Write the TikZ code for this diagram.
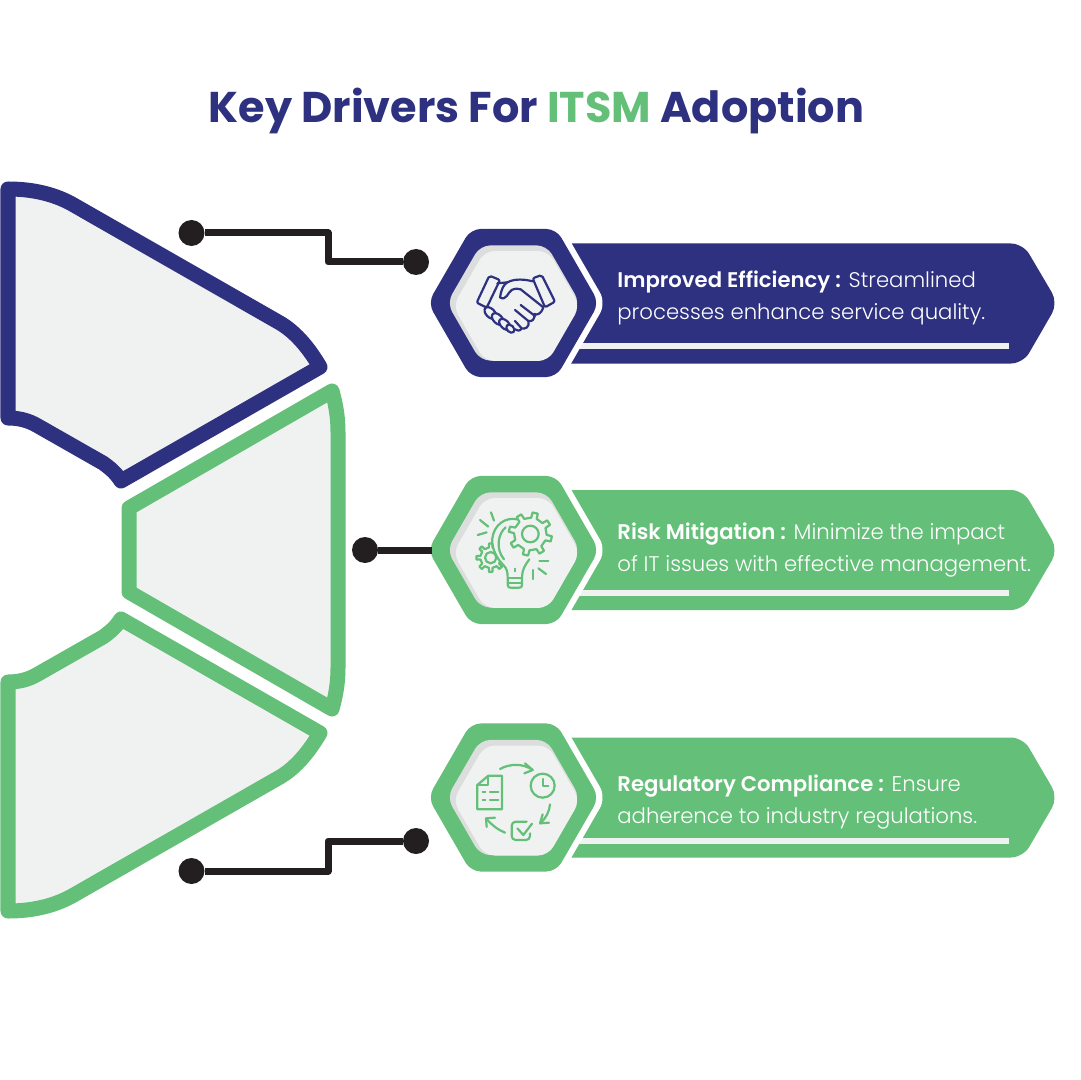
\documentclass[tikz,border=0pt]{standalone}
\usepackage{fontspec}
\setmainfont{Poppins}[UprightFont=* Light,BoldFont=* SemiBold]
\newfontfamily\titlefamily{Poppins}[UprightFont=* Bold,BoldFont=* Bold]
\usetikzlibrary{shapes.geometric,positioning}
\definecolor{navy}{HTML}{2E3180}
\definecolor{leaf}{HTML}{64BF78}
\definecolor{panel}{HTML}{F0F2F1}
\definecolor{panelshadow}{HTML}{DCDEDD}
\definecolor{wire}{HTML}{231F20}

\begin{document}
\begin{tikzpicture}[x=0.5pt,y=-0.5pt,
            wedge/.style={fill=panel,line width=7.5pt,line join=round},
            dot/.style={circle,fill=wire,inner sep=0pt,minimum size=13pt},
            wireline/.style={draw=wire,line width=3.5pt,line join=round},
            hexbase/.style={regular polygon,regular polygon sides=6,inner sep=0pt,outer sep=0pt,rounded corners=5pt},
            hexhalo/.style={hexbase,fill=white,minimum size=92.5pt,rounded corners=6pt},
            hexouter/.style={hexbase,minimum size=85.5pt},
            hexback/.style={hexbase,fill=panelshadow,minimum size=66.5pt},
            hexface/.style={hexbase,fill=panel,minimum size=63.5pt},
            banner/.style={rounded corners=6pt},
            bartext/.style={anchor=west,text=white,align=left,inner sep=0pt,font=\fontsize{10.6}{16}\selectfont},
            iconline/.style={line width=1.1pt,line cap=round,line join=round},
            titlefont/.style={font=\fontsize{21.5}{28}\titlefamily}]

        \useasboundingbox (0,0) rectangle (1080,1080);

        \node[titlefont,text=navy] (title) at (536.5,111.5) {Key Drivers For \textcolor{leaf}{ITSM} Adoption};

        % left wedges
        \draw[wedge,draw=navy] (8,189) .. controls (30,189) and (52,193) .. (72,204) -- (280,323)
            .. controls (297,333) and (310,350) .. (320,367) -- (121,481)
            .. controls (116,473) and (110,468) .. (103,463) -- (38,426)
            .. controls (28,420) and (18,418) .. (8,418) -- cycle;
        \draw[wedge,draw=leaf] (332,391) .. controls (336,405) and (338,418) .. (338,432) -- (338,668)
            .. controls (338,682) and (336,695) .. (332,709) -- (129,592) -- (129,508) -- cycle;
        \draw[wedge,draw=leaf] (8,911) .. controls (30,911) and (52,907) .. (72,896) -- (280,777)
            .. controls (297,767) and (310,750) .. (320,733) -- (121,619)
            .. controls (116,627) and (110,632) .. (103,637) -- (38,674)
            .. controls (28,680) and (18,682) .. (8,682) -- cycle;

        % banners
        \fill[navy,banner] (530,243.5) -- (1023,243.5) -- (1058,303) -- (1023,363.5) -- (530,363.5) -- cycle;
        \fill[panel] (560,343) rectangle (1009,349);
        \fill[leaf,banner] (530,490) -- (1023,490) -- (1058,550) -- (1023,610) -- (530,610) -- cycle;
        \fill[panel] (560,590) rectangle (1009,596);
        \fill[leaf,banner] (530,737.5) -- (1023,737.5) -- (1058,797.5) -- (1023,857.5) -- (530,857.5) -- cycle;
        \fill[panel] (560,837.5) rectangle (1009,843.5);

        \node[bartext] (textA) at (617,297.5) {\textbf{Improved Efficiency :} Streamlined\\processes enhance service quality.};
        \node[bartext] (textB) at (617,550.5) {\textbf{Risk Mitigation :} Minimize the impact\\of IT issues with effective management.};
        \node[bartext] (textC) at (617,802.5) {\textbf{Regulatory Compliance :} Ensure\\adherence to industry regulations.};

        % hexagons
        \node[hexhalo] (haloA) at (513.5,303) {};
        \node[hexouter,fill=navy] (hexA) at (513.5,303) {};
        \node[hexback] (backA) at (513.5,303) {};
        \node[hexface,xshift=1.5pt,yshift=-1.5pt] (faceA) at (513.5,303) {};

        \node[hexhalo] (haloB) at (513.5,550) {};
        \node[hexouter,fill=leaf] (hexB) at (513.5,550) {};
        \node[hexback] (backB) at (513.5,550) {};
        \node[hexface,xshift=1.5pt,yshift=-1.5pt] (faceB) at (513.5,550) {};

        \node[hexhalo] (haloC) at (513.5,797.5) {};
        \node[hexouter,fill=leaf] (hexC) at (513.5,797.5) {};
        \node[hexback] (backC) at (513.5,797.5) {};
        \node[hexface,xshift=1.5pt,yshift=-1.5pt] (faceC) at (513.5,797.5) {};

        % connectors
        \node[dot] (dotA) at (191.5,233) {};
        \node[dot] (endA) at (416,262) {};
        \coordinate (kneeA) at (328,248);
        \draw[wireline] (dotA) -| (kneeA) |- (endA);

        \node[dot] (dotB) at (365,550) {};
        \draw[wireline] (dotB) -- ([xshift=2pt]hexB.west);

        \node[dot] (dotC) at (191.5,871) {};
        \node[dot] (endC) at (416,841) {};
        \coordinate (kneeC) at (328,856);
        \draw[wireline] (dotC) -| (kneeC) |- (endC);

        % handshake
        \begin{scope}[shift={(420,220)},x=0.16667pt,y=-0.16667pt]
            \draw[iconline,navy,rounded corners=1pt] (208,167) -- (240,180) -- (200,263) -- (170,248) -- cycle;
            \draw[iconline,navy,rounded corners=1pt] (338,175) -- (365,165) -- (405,245) -- (375,262) -- cycle;
            \draw[iconline,navy] (338,184) .. controls (315,178) and (285,175) .. (262,187)
                .. controls (250,195) and (245,205) .. (240,232)
                .. controls (258,245) and (265,215) .. (275,210)
                .. controls (285,205) and (295,205) .. (302,208) -- (370,262)
                .. controls (362,285) and (350,285) .. (343,282);
            \draw[iconline,navy] (232,190) -- (262,187);
            \draw[iconline,navy] (302,255) -- (345,288);
            \draw[iconline,navy] (343,282) .. controls (345,300) and (335,305) .. (325,303) -- (285,270);
            \draw[iconline,navy] (325,303) .. controls (330,322) and (315,328) .. (305,325) -- (285,303);
            \draw[iconline,navy] (305,325) .. controls (300,335) and (290,332) .. (285,328);
            \draw[iconline,navy,fill=panel,rotate around={-45:(211,279)}] (211,279) ellipse (21 and 13);
            \draw[iconline,navy,fill=panel,rotate around={-45:(233,297)}] (233,297) ellipse (21 and 13);
            \draw[iconline,navy,fill=panel,rotate around={-45:(254,313)}] (254,313) ellipse (20 and 12);
            \draw[iconline,navy,fill=panel,rotate around={-45:(271,326)}] (271,326) ellipse (14 and 10);
        \end{scope}

        % bulb and gears
        \begin{scope}[shift={(420,470)},x=0.16667pt,y=-0.16667pt]
            \begin{scope}[shift={(212,263)}]
                \draw[iconline,leaf] (-10:31) \foreach \a in {0,45,...,315}{ -- (\a-10:31) -- (\a-7:43) -- (\a+7:43) -- (\a+10:31)} -- cycle;
                \draw[iconline,leaf] (0,0) circle (17);
            \end{scope}
            \draw[iconline,leaf,fill=panel] (292,148) .. controls (255,140) and (222,165) .. (217,205)
                .. controls (214,240) and (235,270) .. (250,285)
                .. controls (260,295) and (263,305) .. (263,322) -- (263,345)
                .. controls (263,352) and (268,353) .. (272,353) -- (297,353)
                .. controls (302,353) and (306,352) .. (306,345) -- (306,322)
                .. controls (306,300) and (315,285) .. (328,268);
            \draw[iconline,leaf] (257,172) .. controls (235,190) and (225,235) .. (252,268);
            \draw[iconline,leaf] (284,296) -- (284,304);
            \draw[iconline,leaf] (264,324) -- (305,324);
            \draw[iconline,leaf] (264,338) -- (305,338);
            \begin{scope}[shift={(331,192)}]
                \draw[iconline,leaf,fill=panel] (3:49) \foreach \a in {13,58,...,328}{ -- (\a-10:49) -- (\a-7:65) -- (\a+7:65) -- (\a+10:49)} -- cycle;
                \draw[iconline,leaf] (0,0) circle (25);
            \end{scope}
            \draw[iconline,leaf] (213,127) -- (222,152);
            \draw[iconline,leaf] (180,150) -- (205,170);
            \draw[iconline,leaf] (173,195) -- (200,187);
            \draw[iconline,leaf] (358,272) -- (385,272);
            \draw[iconline,leaf] (355,295) -- (378,312);
            \draw[iconline,leaf] (338,300) -- (338,327);
        \end{scope}

        % document cycle
        \begin{scope}[shift={(420,715)},x=0.16667pt,y=-0.16667pt]
            \draw[iconline,leaf] (172,210) -- (205,182) -- (246,182) -- (246,283) -- (172,283) -- cycle;
            \draw[iconline,leaf] (172,210) -- (203,210) -- (203,184);
            \draw[iconline,leaf] (188,232) -- (196,232);
            \draw[iconline,leaf] (210,232) -- (235,232);
            \draw[iconline,leaf] (188,255) -- (196,255);
            \draw[iconline,leaf] (210,255) -- (235,255);
            \draw[iconline,leaf] (368,212) circle (36);
            \draw[iconline,leaf] (368,192) -- (368,213) -- (385,213);
            \draw[iconline,leaf] (240,162) .. controls (270,145) and (310,145) .. (338,165);
            \draw[iconline,leaf] (315,145) -- (338,165) -- (313,175);
            \draw[iconline,leaf] (390,268) .. controls (388,290) and (378,310) .. (360,325);
            \draw[iconline,leaf] (368,298) -- (360,325) -- (387,323);
            \draw[iconline,leaf] (255,353) .. controls (235,345) and (215,330) .. (198,310);
            \draw[iconline,leaf] (200,336) -- (198,310) -- (225,308);
            \draw[iconline,leaf,rounded corners=2pt] (320,320) -- (275,320) -- (275,375) -- (330,375) -- (330,355);
            \draw[iconline,leaf] (292,340) -- (310,360) -- (336,326);
        \end{scope}

    \end{tikzpicture}
\end{document}
